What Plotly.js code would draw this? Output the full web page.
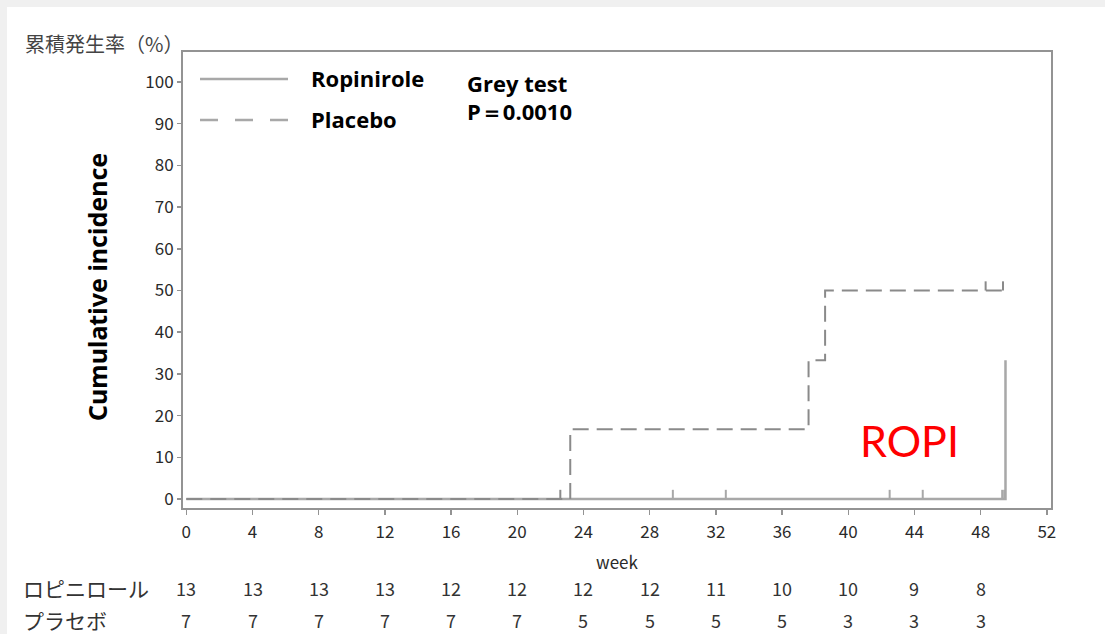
<!DOCTYPE html>
<html>
<head>
<meta charset="utf-8">
<script src="https://cdn.plot.ly/plotly-3.0.1.min.js"></script>
<style>
  html, body { margin: 0; padding: 0; background: #f0f0f0; width: 1105px; height: 634px; overflow: hidden; }
  #chart { position: absolute; left: 7px; top: 7px; width: 1098px; height: 627px; background: #ffffff; }
</style>
</head>
<body>
<div id="chart"></div>
<script>
// ---- data ----
const riskWeeks   = [0, 4, 8, 12, 16, 20, 24, 28, 32, 36, 40, 44, 48];
const ropiRisk    = [13, 13, 13, 13, 12, 12, 12, 12, 11, 10, 10, 9, 8];
const placeboRisk = [7, 7, 7, 7, 7, 7, 5, 5, 5, 5, 3, 3, 3];
const rowLabels   = ["ロピニロール", "プラセボ"];

const ropiX = [0, 49.5];
const ropiY = [0, 33.3];
const placeboX = [0, 23.2, 37.6, 38.6, 49.5];
const placeboY = [0, 16.7, 33.3, 50, 50];

const ropiCensorX = [29.4, 32.6, 42.5, 44.5, 49.3, 49.42];
const ropiCensorY = [0, 0, 0, 0, 0, 0];
const placeboCensorX = [22.6, 48.3, 49.35];
const placeboCensorY = [0, 50, 50];

const seriesNames = ["Ropinirole", "Placebo"];
const testLines = ["Grey test", "P＝0.0010"];

// ---- helpers ----
const TICK = 2.2;
function censorSegs(xs, ys) {
  const sx = [], sy = [];
  xs.forEach((x, i) => { sx.push(x, x, null); sy.push(ys[i], ys[i] + TICK, null); });
  return {x: sx, y: sy};
}
const rc = censorSegs(ropiCensorX, ropiCensorY);
const pc = censorSegs(placeboCensorX, placeboCensorY);

const solidCol = '#a8a8a8';
const dashCol = '#8a8a8a';

const traces = [
  {x: ropiX, y: ropiY, mode: 'lines', line: {shape: 'hv', color: solidCol, width: 2.5}, name: seriesNames[0], showlegend: false, hoverinfo: 'skip'},
  {x: placeboX, y: placeboY, mode: 'lines', line: {shape: 'hv', color: dashCol, width: 2, dash: '16px,8px'}, name: seriesNames[1], showlegend: false, hoverinfo: 'skip'},
  {x: rc.x, y: rc.y, mode: 'lines', line: {color: solidCol, width: 2}, showlegend: false, hoverinfo: 'skip'},
  {x: pc.x, y: pc.y, mode: 'lines', line: {color: dashCol, width: 2}, showlegend: false, hoverinfo: 'skip'}
];

// plot area geometry in div pixels: l=176, t=45, w=868, h=456
const W = 868, H = 456;
const px = v => (v - 183) / W;        // page x -> paper x
const py = v => (508 - v) / H;        // page y -> paper y

const annFont = 'Noto Sans CJK JP, Noto Sans, sans-serif';
const latin = 'Open Sans, sans-serif';
const annotations = [];

// risk table
riskWeeks.forEach((w, i) => {
  annotations.push({x: w, y: py(588), xref: 'x', yref: 'paper', text: String(ropiRisk[i]), showarrow: false,
    xanchor: 'center', yanchor: 'middle', font: {family: annFont, size: 18, color: '#333'}});
  annotations.push({x: w, y: py(620), xref: 'x', yref: 'paper', text: String(placeboRisk[i]), showarrow: false,
    xanchor: 'center', yanchor: 'middle', font: {family: annFont, size: 18, color: '#333'}});
});
annotations.push({x: px(21), y: py(588), xref: 'paper', yref: 'paper', text: rowLabels[0], showarrow: false,
  xanchor: 'left', yanchor: 'middle', font: {family: annFont, size: 21, color: '#333'}});
annotations.push({x: px(21), y: py(620), xref: 'paper', yref: 'paper', text: rowLabels[1], showarrow: false,
  xanchor: 'left', yanchor: 'middle', font: {family: annFont, size: 21, color: '#333'}});

// Japanese y title at top-left
annotations.push({x: px(185), y: py(43), xref: 'paper', yref: 'paper', text: '累積発生率（%）', showarrow: false,
  xanchor: 'right', yanchor: 'middle', font: {family: annFont, size: 20, color: '#444'}});

// English rotated y title
annotations.push({x: px(97), y: py(287), xref: 'paper', yref: 'paper', text: '<b>Cumulative incidence</b>', showarrow: false,
  textangle: -90, xanchor: 'center', yanchor: 'middle', font: {family: 'Noto Sans, sans-serif', size: 25, color: '#000'}});

// legend text
annotations.push({x: px(309), y: py(78), xref: 'paper', yref: 'paper', text: '<b>' + seriesNames[0] + '</b>', showarrow: false,
  xanchor: 'left', yanchor: 'middle', font: {family: latin, size: 22, color: '#000'}});
annotations.push({x: px(309), y: py(119), xref: 'paper', yref: 'paper', text: '<b>' + seriesNames[1] + '</b>', showarrow: false,
  xanchor: 'left', yanchor: 'middle', font: {family: latin, size: 22, color: '#000'}});
annotations.push({x: px(465), y: py(83), xref: 'paper', yref: 'paper', text: '<b>' + testLines[0] + '</b>', showarrow: false,
  xanchor: 'left', yanchor: 'middle', font: {family: latin, size: 22, color: '#000'}});
annotations.push({x: px(465), y: py(111), xref: 'paper', yref: 'paper', text: '<b>' + testLines[1] + '</b>', showarrow: false,
  xanchor: 'left', yanchor: 'middle', font: {family: latin, size: 22, color: '#000'}});

// ROPI red label
annotations.push({x: px(909), y: py(440), xref: 'paper', yref: 'paper', text: 'ROPI', showarrow: false,
  xanchor: 'center', yanchor: 'middle', font: {family: 'Lato, sans-serif', size: 43, color: '#ff0000'}});

const shapes = [
  {type: 'line', xref: 'paper', yref: 'paper', x0: px(200), x1: px(288), y0: py(79), y1: py(79), line: {color: solidCol, width: 2.5}},
  {type: 'line', xref: 'paper', yref: 'paper', x0: px(200), x1: px(288), y0: py(120), y1: py(120), line: {color: solidCol, width: 2.5, dash: '18px,17px'}}
];

const layout = {
  width: 1098, height: 627,
  margin: {l: 176, r: 54, t: 45, b: 126, pad: 0},
  paper_bgcolor: '#ffffff', plot_bgcolor: '#ffffff',
  showlegend: false,
  xaxis: {
    range: [-0.2, 52.25], tickmode: 'linear', tick0: 0, dtick: 4,
    showgrid: false, zeroline: false,
    showline: true, mirror: true, linecolor: '#939393', linewidth: 2,
    ticks: 'outside', ticklen: 5, tickwidth: 1.5, tickcolor: '#939393',
    ticklabelstandoff: 3,
    tickfont: {family: annFont, size: 17, color: '#2a2a2a'},
    title: {text: 'week', font: {family: annFont, size: 17, color: '#2a2a2a'}, standoff: 15}
  },
  yaxis: {
    range: [-2.16, 107.2], tickmode: 'linear', tick0: 0, dtick: 10,
    showgrid: false, zeroline: false,
    showline: true, mirror: true, linecolor: '#939393', linewidth: 2,
    ticks: 'outside', ticklen: 4, tickwidth: 1.5, tickcolor: '#939393',
    tickfont: {family: annFont, size: 17, color: '#2a2a2a'}
  },
  annotations: annotations,
  shapes: shapes
};

Plotly.newPlot('chart', traces, layout, {displayModeBar: false, staticPlot: true});
</script>
</body>
</html>
